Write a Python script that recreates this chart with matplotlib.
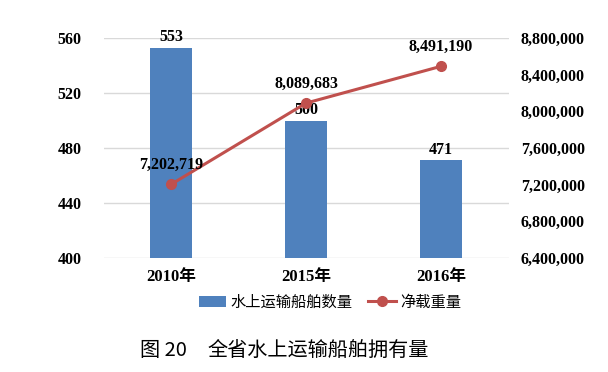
import matplotlib
matplotlib.use("Agg")
import matplotlib.pyplot as plt
from matplotlib.ticker import FuncFormatter

plt.rcParams['font.family'] = ['Liberation Serif', 'Noto Sans CJK SC', 'DejaVu Sans']

# 数据
years = ["2010年", "2015年", "2016年"]
ship_count = [553, 500, 471]
net_tonnage = [7202719, 8089683, 8491190]

bar_color = "#4F81BD"
line_color = "#C0504D"

fig = plt.figure(figsize=(6.08, 3.72), dpi=100)
ax = fig.add_axes([103.5 / 608, 1 - 258 / 372, 405 / 608, 220 / 372])
ax2 = ax.twinx()

x = list(range(len(years)))
ax.bar(x, ship_count, width=0.31, color=bar_color, zorder=2, label="水上运输船舶数量")
ax.set_ylim(400, 560)
ax.set_yticks(range(400, 561, 40))
ax.set_xlim(-0.5, 2.5)
ax.set_xticks(x)
ax.set_xticklabels(years)
ax.grid(axis="y", color="#D9D9D9", linewidth=1, zorder=0)
ax.set_axisbelow(True)

ax2.plot(x, net_tonnage, color=line_color, linewidth=2.2, marker="o", markersize=7,
         zorder=3, label="净载重量")
ax2.set_ylim(6400000, 8800000)
ax2.set_yticks(range(6400000, 8800001, 400000))
ax2.yaxis.set_major_formatter(FuncFormatter(lambda v, p: f"{int(v):,}"))

for a in (ax, ax2):
    for s in a.spines.values():
        s.set_visible(False)
    a.tick_params(length=0, labelsize=11.5)
    for t in a.get_yticklabels() + a.get_xticklabels():
        t.set_fontweight("bold")
ax.tick_params(axis="y", pad=16)
ax.tick_params(axis="x", pad=8, labelsize=12)
ax2.tick_params(axis="y", pad=9)

for xi, v in zip(x, ship_count):
    ax.annotate(str(v), (xi, v), xytext=(0, 2), textcoords="offset points",
                ha="center", va="bottom", fontsize=11.5, fontweight="bold")
for xi, v in zip(x, net_tonnage):
    ax2.annotate(f"{v:,}", (xi, v), xytext=(0, 8), textcoords="offset points",
                 ha="center", va="bottom", fontsize=11.5, fontweight="bold", zorder=4)

h1, l1 = ax.get_legend_handles_labels()
h2, l2 = ax2.get_legend_handles_labels()
fig.legend(h1 + h2, l1 + l2, loc="center", bbox_to_anchor=(330 / 608, 1 - 302 / 372),
           ncol=2, frameon=False, prop={"family": ["Noto Sans CJK SC"], "size": 11},
           handlelength=1.8, columnspacing=1.0, handletextpad=0.3)

fig.text(140 / 608, 1 - 350 / 372, "图 20", ha="left", va="center",
         fontsize=14.5, family=["Noto Sans CJK SC", "DejaVu Sans"])
fig.text(208 / 608, 1 - 350 / 372, "全省水上运输船舶拥有量", ha="left", va="center",
         fontsize=14.5, family=["Noto Sans CJK SC", "DejaVu Sans"])

fig.savefig("out.png", dpi=100)
